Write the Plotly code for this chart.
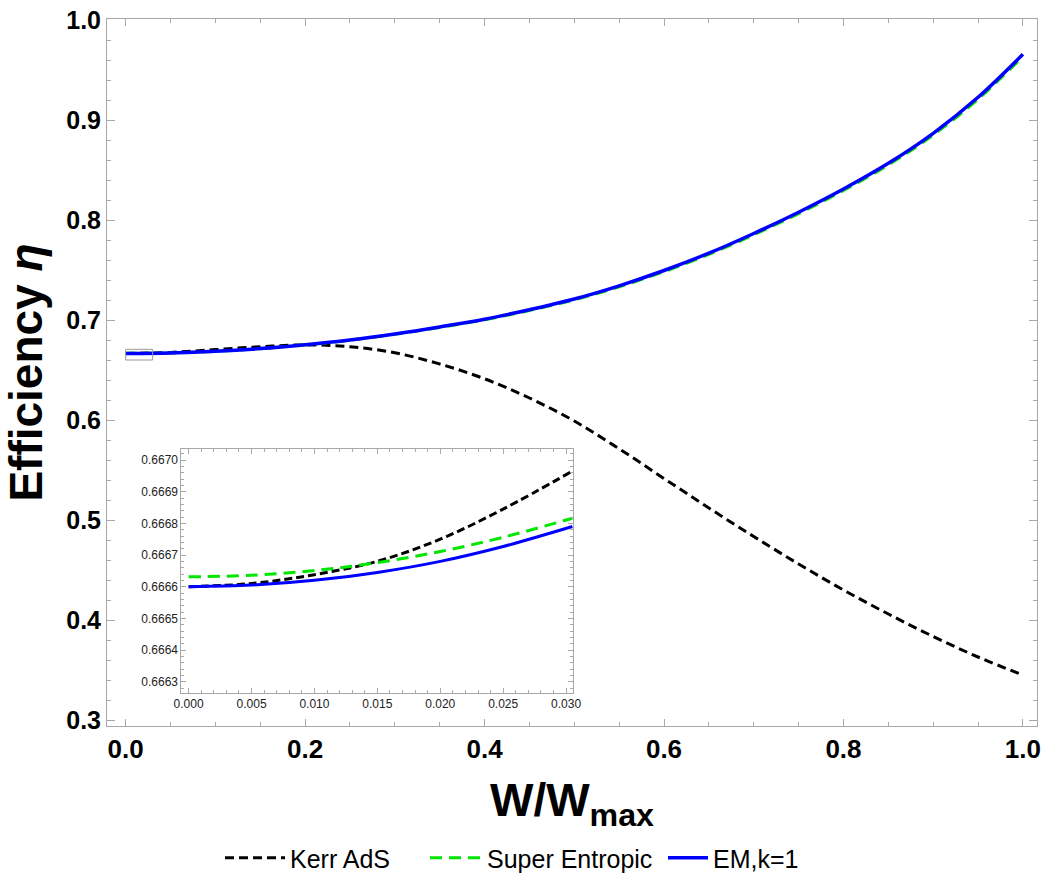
import plotly.graph_objects as go

# ---------------- data ----------------
w_ratio = [0.00, 0.05, 0.10, 0.15, 0.20, 0.25, 0.30, 0.35, 0.40, 0.45, 0.50,
           0.55, 0.60, 0.65, 0.70, 0.75, 0.80, 0.85, 0.90, 0.95, 1.00]

eta_kerr = [0.6666, 0.6676, 0.6704, 0.6733, 0.6751, 0.6733, 0.6672, 0.6560,
            0.6412, 0.6220, 0.5990, 0.5712, 0.5415, 0.5120, 0.4835, 0.4560,
            0.4300, 0.4060, 0.3835, 0.3630, 0.3450]

eta_super = [0.66663, 0.6671, 0.6687, 0.6713, 0.6751, 0.6798, 0.6857, 0.6926,
             0.7002, 0.7095, 0.7201, 0.7332, 0.7484, 0.7656, 0.7852, 0.8064,
             0.8295, 0.8551, 0.8850, 0.9208, 0.9635]

eta_em = [0.6666, 0.6671, 0.6687, 0.6714, 0.6753, 0.6801, 0.6861, 0.6931,
          0.7008, 0.7103, 0.7210, 0.7342, 0.7495, 0.7668, 0.7865, 0.8078,
          0.8310, 0.8567, 0.8867, 0.9227, 0.9657]

# inset (zoom near W/Wmax = 0)
w_inset = [0.0, 0.005, 0.010, 0.015, 0.020, 0.025, 0.0305]
eta_kerr_inset = [0.666600, 0.666610, 0.666638, 0.666680, 0.666750, 0.666845, 0.666965]
eta_super_inset = [0.666631, 0.666636, 0.666651, 0.666676, 0.666711, 0.666756, 0.666816]
eta_em_inset = [0.666600, 0.666605, 0.666620, 0.666645, 0.666680, 0.666727, 0.666790]

# marker box showing the zoomed region on the main plot
zoom_box_x = [0.0, 0.03]
zoom_box_y = [0.660, 0.6707]

series_names = ["Kerr AdS", "Super Entropic", "EM,k=1"]

# ---------------- styling ----------------
BLACK = "#000000"
GREEN = "#00e600"
BLUE = "#0000ff"
FRAME = "#a8a8a8"
FONT = "Liberation Sans, Arial, sans-serif"

fig = go.Figure()

# main curves (each in its own legend so the entries can be spaced like the reference)
fig.add_trace(go.Scatter(x=w_ratio, y=eta_kerr, name=series_names[0], mode="lines",
                         line=dict(color=BLACK, width=3, dash="9px,5px", shape="spline"),
                         xaxis="x", yaxis="y", legend="legend"))
fig.add_trace(go.Scatter(x=w_ratio, y=eta_super, name=series_names[1], mode="lines",
                         line=dict(color=GREEN, width=3, dash="12px,7px", shape="spline"),
                         xaxis="x", yaxis="y", legend="legend2"))
fig.add_trace(go.Scatter(x=w_ratio, y=eta_em, name=series_names[2], mode="lines",
                         line=dict(color=BLUE, width=3.5, shape="spline"),
                         xaxis="x", yaxis="y", legend="legend3"))

# inset curves
fig.add_trace(go.Scatter(x=w_inset, y=eta_kerr_inset, mode="lines", showlegend=False,
                         line=dict(color=BLACK, width=3, dash="8px,4px", shape="spline"),
                         xaxis="x2", yaxis="y2"))
fig.add_trace(go.Scatter(x=w_inset, y=eta_super_inset, mode="lines", showlegend=False,
                         line=dict(color=GREEN, width=3, dash="12px,7px", shape="spline"),
                         xaxis="x2", yaxis="y2"))
fig.add_trace(go.Scatter(x=w_inset, y=eta_em_inset, mode="lines", showlegend=False,
                         line=dict(color=BLUE, width=3, shape="spline"),
                         xaxis="x2", yaxis="y2"))

# zoom marker rectangle on main axes
fig.add_shape(type="rect", xref="x", yref="y",
              x0=zoom_box_x[0], x1=zoom_box_x[1], y0=zoom_box_y[0], y1=zoom_box_y[1],
              line=dict(color="#999999", width=1), fillcolor="rgba(0,0,0,0)")

axis_common = dict(showgrid=False, zeroline=False, showline=True, linecolor=FRAME,
                   linewidth=1, mirror="ticks", ticks="inside", tickcolor=FRAME)

legend_common = dict(orientation="h", xref="container", yref="container",
                     xanchor="left", y=0.0294, yanchor="middle",
                     font=dict(family=FONT, size=25, color="black"),
                     bgcolor="rgba(0,0,0,0)", borderwidth=0)

fig.update_layout(
    width=1050, height=884,
    margin=dict(l=107, r=5, t=19, b=158),
    paper_bgcolor="white", plot_bgcolor="white",
    font=dict(family=FONT, color="black"),
    xaxis=dict(**axis_common, range=[-0.0208, 1.0157], dtick=0.2, tick0=0,
               tickformat=".1f", ticklen=7, tickwidth=1,
               minor=dict(ticks="inside", dtick=0.05, ticklen=4, tickcolor=FRAME, showgrid=False),
               tickfont=dict(family=FONT, size=26, weight="bold", color="black"),
               title=dict(text="W/W<sub>max</sub>", standoff=20,
                          font=dict(family=FONT, size=46, weight="bold", color="black")),
               domain=[0, 1]),
    yaxis=dict(**axis_common, range=[0.294, 1.001], dtick=0.1, tick0=0,
               tickformat=".1f", ticklen=8, tickwidth=1,
               minor=dict(ticks="inside", dtick=0.02, ticklen=4, tickcolor=FRAME, showgrid=False),
               tickfont=dict(family=FONT, size=25, weight="bold", color="black"),
               title=dict(text="Efficiency <i>η</i>", standoff=14,
                          font=dict(family=FONT, size=46, weight="bold", color="black")),
               domain=[0, 1]),
    xaxis2=dict(**axis_common, anchor="y2", domain=[0.0800, 0.5011],
                range=[-0.000575, 0.030552], dtick=0.005, tick0=0, tickformat=".3f",
                ticklen=5, tickwidth=1,
                minor=dict(ticks="inside", dtick=0.001, ticklen=3, tickcolor=FRAME, showgrid=False),
                tickfont=dict(family=FONT, size=12, color="#222222")),
    yaxis2=dict(**axis_common, anchor="x2", domain=[0.0467, 0.3918],
                range=[0.6662643, 0.6670348], dtick=0.0001, tick0=0.6660, tickformat=".4f",
                ticklen=5, tickwidth=1,
                minor=dict(ticks="inside", dtick=0.00002, ticklen=3, tickcolor=FRAME, showgrid=False),
                tickfont=dict(family=FONT, size=12, color="#222222")),
    legend=dict(**legend_common, x=220 / 1050, itemwidth=60),
    legend2=dict(**legend_common, x=425 / 1050, itemwidth=52),
    legend3=dict(**legend_common, x=663 / 1050, itemwidth=40),
    showlegend=True,
)

fig.write_html("out.html")
